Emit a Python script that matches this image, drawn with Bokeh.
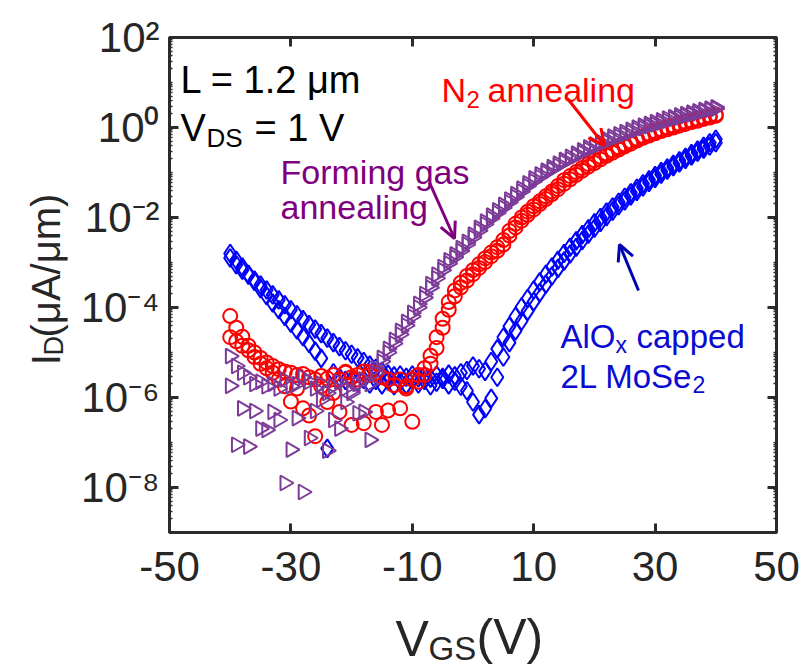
import numpy as np
from bokeh.plotting import figure
from bokeh.layouts import row, column
from bokeh.models import (FixedTicker, LinearAxis, LogAxis, Range1d, Label, Arrow,
                          OpenHead, CustomJSTickFormatter, ColumnDataSource)
from bokeh.embed import file_html
from bokeh.resources import INLINE

# ---------------- data ----------------
# gate sweep V_GS (V)
vgs = [-40, -39, -38, -37, -36, -35, -34, -33, -32, -31,
       -30, -29, -28, -27, -26, -25, -24, -23, -22, -21,
       -20, -19, -18, -17, -16, -15, -14, -13, -12, -11,
       -10, -9, -8, -7, -6, -5, -4, -3, -2, -1,
       0, 1, 2, 3, 4, 5, 6, 7, 8, 9,
       10, 11, 12, 13, 14, 15, 16, 17, 18, 19,
       20, 21, 22, 23, 24, 25, 26, 27, 28, 29,
       30, 31, 32, 33, 34, 35, 36, 37, 38, 39, 40]

# log10 of I_D (uA/um) for each sweep
aloxcap_sweep1_log10 = [
    -2.8, -2.95, -3.1, -3.26, -3.42, -3.58, -3.74, -3.9, -4.05, -4.2,
    -4.35, -4.5, -4.65, -4.8, -4.97, -5.13, -7.13, -5.45, -5.55, -5.62,
    -5.6, -5.66, -5.6, -5.7, -5.62, -5.72, -5.63, -5.74, -5.65, -5.72,
    -5.6, -5.7, -5.62, -5.74, -5.66, -5.6, -5.72, -5.64, -5.75, -5.85,
    -6.1, -6.38, -6.25, -6.02, -5.55, -5.1, -4.78, -4.52, -4.3, -4.08,
    -3.87, -3.67, -3.48, -3.3, -3.13, -2.97, -2.81, -2.66, -2.51, -2.37,
    -2.24, -2.11, -1.98, -1.86, -1.74, -1.63, -1.52, -1.42, -1.32, -1.22,
    -1.13, -1.04, -0.95, -0.87, -0.79, -0.71, -0.63, -0.55, -0.48, -0.41, -0.34]
aloxcap_sweep2_log10 = [
    -2.9, -3.05, -3.17, -3.28, -3.39, -3.5, -3.61, -3.72, -3.83, -3.94,
    -4.05, -4.16, -4.27, -4.38, -4.48, -4.58, -4.68, -4.78, -4.87, -4.96,
    -5.04, -5.12, -5.2, -5.28, -5.35, -5.42, -5.48, -5.52, -5.5, -5.55,
    -5.5, -5.56, -5.52, -5.57, -5.5, -5.55, -5.48, -5.52, -5.45, -5.4,
    -5.3, -5.36, -5.42, -5.2, -4.92, -4.66, -4.42, -4.2, -3.99, -3.8,
    -3.61, -3.43, -3.26, -3.1, -2.95, -2.8, -2.66, -2.52, -2.38, -2.25,
    -2.12, -2.0, -1.88, -1.77, -1.66, -1.55, -1.45, -1.35, -1.25, -1.16,
    -1.07, -0.98, -0.9, -0.82, -0.74, -0.66, -0.58, -0.5, -0.42, -0.34, -0.26]
n2_sweep1_log10 = [
    -4.19, -4.45, -4.65, -4.85, -5.0, -5.12, -5.22, -5.3, -5.37, -5.42,
    -5.45, -5.5, -5.48, -5.55, -5.6, -5.52, -5.58, -5.5, -5.6, -5.45,
    -5.55, -5.5, -5.42, -5.5, -5.45, -5.55, -5.6, -5.72, -5.6, -5.75,
    -5.6, -5.5, -5.35, -5.07, -4.66, -4.25, -3.88, -3.62, -3.45, -3.3,
    -3.17, -3.04, -2.91, -2.78, -2.66, -2.5, -2.3, -2.14, -2.0, -1.87,
    -1.75, -1.64, -1.53, -1.42, -1.3, -1.17, -1.08, -0.99, -0.9, -0.81,
    -0.73, -0.65, -0.58, -0.51, -0.44, -0.38, -0.31, -0.25, -0.19, -0.14,
    -0.09, -0.04, 0.0, 0.04, 0.08, 0.12, 0.15, 0.19, 0.22, 0.26, 0.29]
n2_sweep2_log10 = [
    -4.66, -4.75, -4.85, -4.95, -5.1, -5.25, -5.35, -5.45, -5.6, -5.75,
    -6.09, -5.8, -6.24, -6.4, -6.86, -5.75, -6.1, -5.9, -6.32, -5.43,
    -6.61, -5.6, -6.57, -5.43, -6.32, -6.61, -6.29, -5.73, -6.24, -5.8,
    -6.54, -5.65, -5.5, -5.25, -4.9, -4.45, -4.05, -3.75, -3.55, -3.4,
    -3.26, -3.12, -2.99, -2.86, -2.74, -2.6, -2.4, -2.22, -2.07, -1.94,
    -1.82, -1.7, -1.59, -1.48, -1.37, -1.25, -1.15, -1.05, -0.96, -0.87,
    -0.79, -0.71, -0.63, -0.56, -0.49, -0.42, -0.36, -0.29, -0.23, -0.18,
    -0.13, -0.08, -0.04, 0.0, 0.04, 0.08, 0.12, 0.15, 0.19, 0.22, 0.26]
fg_sweep1_log10 = [
    -5.08, -5.3, -5.45, -5.55, -5.7, -5.65, -5.75, -5.7, -5.8, -5.6,
    -5.75, -5.7, -5.55, -5.65, -5.8, -5.7, -5.9, -5.75, -5.65, -5.8,
    -5.85, -5.7, -5.6, -5.7, -5.35, -5.12, -4.92, -4.72, -4.52, -4.32,
    -4.12, -3.92, -3.7, -3.48, -3.27, -3.1, -2.95, -2.82, -2.68, -2.54,
    -2.38, -2.23, -2.09, -1.96, -1.84, -1.72, -1.6, -1.48, -1.36, -1.24,
    -1.13, -1.04, -0.96, -0.88, -0.8, -0.72, -0.65, -0.58, -0.51, -0.44,
    -0.38, -0.32, -0.26, -0.2, -0.15, -0.1, -0.05, 0.0, 0.04, 0.08,
    0.12, 0.16, 0.2, 0.23, 0.27, 0.3, 0.33, 0.36, 0.39, 0.42, 0.45]
fg_sweep2_log10 = [
    -5.74, -7.05, -6.24, -7.09, -6.3, -6.69, -6.72, -6.32, -6.5, -7.9,
    -7.16, -6.46, -8.1, -6.9, -6.3, -6.05, -7.18, -6.5, -6.69, -6.1,
    -5.9, -6.35, -6.32, -6.94, -5.45, -5.2, -5.0, -4.8, -4.6, -4.4,
    -4.2, -4.0, -3.78, -3.56, -3.35, -3.17, -3.02, -2.88, -2.74, -2.6,
    -2.44, -2.29, -2.15, -2.02, -1.9, -1.78, -1.66, -1.54, -1.42, -1.3,
    -1.19, -1.1, -1.01, -0.93, -0.85, -0.77, -0.7, -0.63, -0.56, -0.49,
    -0.43, -0.37, -0.31, -0.25, -0.2, -0.15, -0.1, -0.05, -0.01, 0.03,
    0.07, 0.11, 0.15, 0.19, 0.22, 0.26, 0.29, 0.32, 0.36, 0.39, 0.42]

x_ticks = [-50, -30, -10, 10, 30, 50]
y_ticks = [1e-8, 1e-6, 1e-4, 1e-2, 1e0, 1e2]
x_range = (-50, 50)
y_range = (1e-9, 1e2)

# ---------------- styling / layout (page pixels) ----------------
FONT = "Liberation Sans"
TICK_FONT = "Liberation Sans Narrow, Liberation Sans"
AX = "#2b2b2b"
TXT = "#262626"
BLUE, RED, PURPLE = "#0000ff", "#ff0000", "#7d3b98"
BLUE_T, PURPLE_T = "#0a0ad2", "#7f007f"

PAGE_W, PAGE_H = 801, 666
YLAB_W = 74            # strip for the y-axis title
MAIN_H = 604           # main plot height; the x-axis title strip lies below
FL, FR, FT, FB = 169, 776, 37, 532   # frame edges on the page

p = figure(width=PAGE_W - YLAB_W, height=MAIN_H, output_backend="svg",
           toolbar_location=None,
           x_range=Range1d(*x_range), y_range=Range1d(*y_range), y_axis_type="log",
           min_border_left=FL - YLAB_W, min_border_right=PAGE_W - FR,
           min_border_top=FT, min_border_bottom=MAIN_H - FB)
p.grid.visible = False
p.outline_line_color = AX
p.outline_line_width = 3

minor_y = [k * 10.0 ** d for d in range(-9, 2) for k in range(1, 10)
           if not (k == 1 and d % 2 == 0)]


def style_axis(ax, show_labels):
    ax.axis_line_color = AX
    ax.axis_line_width = 3
    ax.major_tick_line_color = AX
    ax.major_tick_line_width = 3
    ax.major_tick_in = 9
    ax.major_tick_out = 0
    ax.minor_tick_line_color = AX
    ax.minor_tick_line_width = 1.5
    ax.minor_tick_in = 3
    ax.minor_tick_out = 0
    ax.major_label_text_font = TICK_FONT
    ax.major_label_text_font_size = "42px"
    ax.major_label_text_color = TXT
    if not show_labels:
        ax.formatter = CustomJSTickFormatter(code="return '';")
        ax.major_label_text_font_size = "8px"
        ax.major_label_standoff = 0


sup_fmt = CustomJSTickFormatter(code="""
const e = Math.round(Math.log10(tick));
const m = {'-': '\u207b', '0': '\u2070', '1': '\u00b9', '2': '\u00b2', '3': '\u00b3',
           '4': '\u2074', '5': '\u2075', '6': '\u2076', '7': '\u2077', '8': '\u2078', '9': '\u2079'};
return '10' + String(e).split('').map(c => m[c]).join('');
""")

xa = p.xaxis[0]
xa.ticker = FixedTicker(ticks=x_ticks, minor_ticks=[])
style_axis(xa, True)
xa.formatter = CustomJSTickFormatter(code="return String(tick);")
xa.major_label_standoff = 19

ya = p.yaxis[0]
ya.ticker = FixedTicker(ticks=y_ticks, minor_ticks=minor_y)
style_axis(ya, True)
ya.formatter = sup_fmt
ya.major_label_standoff = 10

top = LinearAxis(ticker=FixedTicker(ticks=x_ticks, minor_ticks=[]))
style_axis(top, False)
p.add_layout(top, "above")
right = LogAxis(ticker=FixedTicker(ticks=y_ticks, minor_ticks=minor_y))
style_axis(right, False)
p.add_layout(right, "right")

# ---------------- markers ----------------
def src(logs):
    return ColumnDataSource(dict(v=vgs, i=[10.0 ** l for l in logs]))

for logs in (aloxcap_sweep1_log10, aloxcap_sweep2_log10):
    p.scatter("v", "i", source=src(logs), marker="diamond", size=18,
              fill_color=None, line_color=BLUE, line_width=2)
for logs in (n2_sweep1_log10, n2_sweep2_log10):
    p.scatter("v", "i", source=src(logs), marker="circle", size=14,
              fill_color=None, line_color=RED, line_width=2)
for logs in (fg_sweep1_log10, fg_sweep2_log10):
    p.scatter("v", "i", source=src(logs), marker="triangle", size=15, angle=-np.pi / 2,
              fill_color=None, line_color=PURPLE, line_width=2)

# ---------------- in-plot annotations (positions given in page pixels) ----------------
LY0, LY1 = np.log10(y_range[0]), np.log10(y_range[1])


def at(px, py):
    """page pixel -> data coordinates of the main plot"""
    x = x_range[0] + (px - FL) * (x_range[1] - x_range[0]) / (FR - FL)
    ly = LY1 - (py - FT) * (LY1 - LY0) / (FB - FT)
    return x, 10.0 ** ly


def txt(fig, x, y, s, size, color, angle=0.0, baseline="alphabetic"):
    fig.add_layout(Label(x=x, y=y, text=s, text_font=FONT, text_font_size=f"{size}px",
                         text_color=color, text_baseline=baseline, text_align="left",
                         angle=angle))


def ptxt(px, py, s, size, color):
    x, y = at(px, py)
    txt(p, x, y, s, size, color)


def arrow(c0, c1, color):
    x0, y0 = at(*c0)
    x1, y1 = at(*c1)
    p.add_layout(Arrow(x_start=x0, y_start=y0, x_end=x1, y_end=y1, line_color=color,
                       line_width=3,
                       end=OpenHead(size=16, line_color=color, line_width=3)))


ptxt(180, 79, "L = 1.2 \u03bcm", 38, "black")
ptxt(180, 127, "V", 38, "black")
ptxt(206, 137, "DS", 26, "black")
ptxt(254, 127, "= 1 V", 38, "black")

ptxt(441, 89, "N", 34, RED)
ptxt(466, 99, "2", 24, RED)
ptxt(487, 89, "annealing", 34, RED)

ptxt(280, 171, "Forming gas", 34, PURPLE_T)
ptxt(280, 206, "annealing", 34, PURPLE_T)

ptxt(560, 336, "AlO", 33, BLUE_T)
ptxt(615, 344, "x", 23, BLUE_T)
ptxt(636, 336, "capped", 33, BLUE_T)
ptxt(560, 376, "2L MoSe", 33, BLUE_T)
ptxt(692, 384, "2", 23, BLUE_T)

arrow((567, 98), (604, 145), RED)
arrow((429, 182), (454, 238), PURPLE_T)
arrow((638, 290), (619, 244), "#0000b4")


# ---------------- axis-title strips (their data units are page pixels) ----------------
def strip(w, h, x0, y0):
    f = figure(width=w, height=h, output_backend="svg", toolbar_location=None,
               x_range=Range1d(x0, x0 + w), y_range=Range1d(y0 + h, y0),
               x_axis_location=None, y_axis_location=None, min_border=0)
    f.grid.visible = False
    f.outline_line_color = None
    return f


ylab = strip(YLAB_W, MAIN_H, 0, 0)
txt(ylab, 45, 400, "I", 40, TXT, angle=np.pi / 2)
txt(ylab, 68, 388, "D", 27, TXT, angle=np.pi / 2, baseline="bottom")
txt(ylab, 45, 366, "(\u03bcA/\u03bcm)", 40, TXT, angle=np.pi / 2)

xlab = strip(PAGE_W, PAGE_H - MAIN_H, 0, MAIN_H)
txt(xlab, 395, 638, "V", 50, TXT)
txt(xlab, 428, 648, "GS", 33, TXT)
txt(xlab, 476, 636, "(V)", 50, TXT)

layout = column(row(ylab, p), xlab)
open("out.html", "w").write(file_html(layout, INLINE))
